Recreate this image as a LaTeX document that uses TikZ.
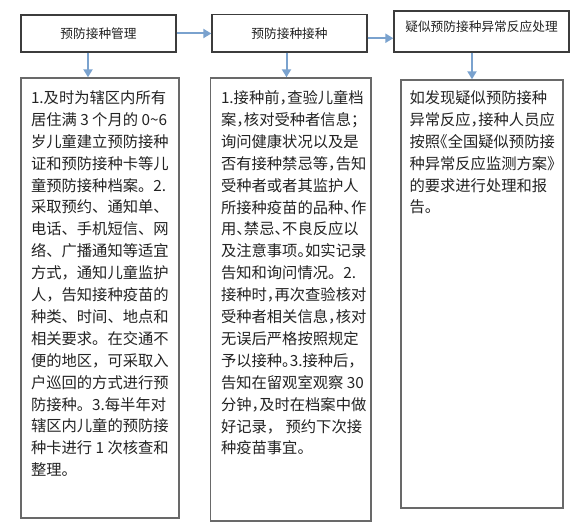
\documentclass[tikz,border=0pt]{standalone}
\usepackage{fontspec}
\setmainfont{Noto Sans CJK SC}
\usetikzlibrary{arrows.meta}
\definecolor{arrblue}{RGB}{122,162,206}
\definecolor{hdrline}{RGB}{60,60,60}
\definecolor{boxline}{RGB}{105,105,105}
\definecolor{txt}{RGB}{35,35,35}
\newcommand\hpl[1]{\makebox[0.5em][l]{#1}}
\newcommand\hpr[1]{\makebox[0.5em][r]{#1}}
\tikzset{
  hdr/.style={draw=hdrline, line width=1.3pt, fill=white, inner sep=0pt, text=txt,
    font=\fontsize{12.7}{15}\selectfont},
  lowbox/.style={draw=boxline, line width=1.4pt, fill=white, inner sep=0pt},
  bodytxt/.style={anchor=north west, inner sep=0pt, align=left, text=txt,
    font=\fontsize{15.3}{21.9}\selectfont},
  arr/.style={draw=arrblue, line width=2pt, -{Triangle[length=8pt,width=9pt]}}
}
\begin{document}
\begin{tikzpicture}[x=1pt,y=-1pt]
\useasboundingbox (0,0) rectangle (576,529);
% header boxes
\node[hdr, minimum width=155pt, minimum height=37pt] (h1) at (98.5,33.5) {预防接种管理};
\node[hdr, minimum width=155pt, minimum height=37.5pt] (h2) at (289.5,33.25) {预防接种接种};
\node[hdr, minimum width=175pt, minimum height=41pt, text height=11pt, text depth=10pt] (h3) at (481.5,31.5) {疑似预防接种异常反应处理};
% lower boxes
\node[lowbox, minimum width=158pt, minimum height=440pt] (b1) at (100,298) {};
\node[lowbox, minimum width=160.5pt, minimum height=443pt] (b2) at (290.75,299.5) {};
\node[lowbox, minimum width=162pt, minimum height=428pt] (b3) at (482,294) {};
% texts
\node[bodytxt] (t1) at ([xshift=10.5pt,yshift=-13pt]b1.north west) {%
1.及时为辖区内所有\\
居住满 3 个月的 0\textasciitilde 6\\
岁儿童建立预防接种\\
证和预防接种卡等儿\\
童预防接种档案。2.\\
采取预约、通知单、\\
电话、手机短信、网\\
络、广播通知等适宜\\
方式，通知儿童监护\\
人，告知接种疫苗的\\
种类、时间、地点和\\
相关要求。在交通不\\
便的地区，可采取入\\
户巡回的方式进行预\\
防接种。3.每半年对\\
辖区内儿童的预防接\\
种卡进行 1 次核查和\\
整理。};
\node[bodytxt] (t2) at ([xshift=11pt,yshift=-13pt]b2.north west) {%
1.接种前\hpl{，}查验儿童档\\
案\hpl{，}核对受种者信息\hpl{；}\\
询问健康状况以及是\\
否有接种禁忌等\hpl{，}告知\\
受种者或者其监护人\\
所接种疫苗的品种\hpl{、}作\\
用\hpl{、}禁忌\hpl{、}不良反应以\\
及注意事项\hpl{。}如实记录\\
告知和询问情况。2.\\
接种时\hpl{，}再次查验核对\\
受种者相关信息\hpl{，}核对\\
无误后严格按照规定\\
予以接种\hpl{。}3.接种后\hpl{，}\\
告知在留观室观察 30\\
分钟\hpl{，}及时在档案中做\\
好记录， 预约下次接\\
种疫苗事宜。};
\node[bodytxt] (t3) at ([xshift=9pt,yshift=-11pt]b3.north west) {%
如发现疑似预防接种\\
异常反应\hpl{，}接种人员应\\
按照\hpr{《}全国疑似预防接\\
种异常反应监测方案\hpl{》}\\
的要求进行处理和报\\
告。};
% connectors
\draw[arr] (h1.east) -- (h1.east -| h2.west);
\draw[arr] ([yshift=-5pt]h2.east) -- ([yshift=-5pt]h2.east -| h3.west);
\draw[arr] ([xshift=-10.5pt]h1.south) -- ([xshift=-10.5pt]h1.south |- b1.north);
\draw[arr] ([xshift=-3pt]h2.south) -- ([xshift=-3pt]h2.south |- b2.north);
\draw[arr] ([xshift=-9.5pt]h3.south) -- ([xshift=-9.5pt]h3.south |- b3.north);
\end{tikzpicture}
\end{document}
